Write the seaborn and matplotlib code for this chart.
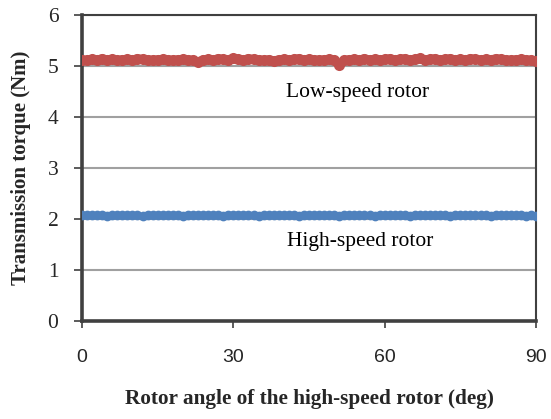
import matplotlib
matplotlib.use("Agg")
import matplotlib.pyplot as plt
import seaborn as sns
import pandas as pd

# Rotor angle of the high-speed rotor (deg)
angle = list(range(0, 91))

# Transmission torque of the low-speed rotor (Nm)
low_speed = [5.12, 5.11, 5.13, 5.12, 5.14, 5.12, 5.13, 5.11, 5.12, 5.13,
             5.12, 5.14, 5.13, 5.12, 5.11, 5.12, 5.13, 5.12, 5.11, 5.12,
             5.13, 5.12, 5.11, 5.08, 5.12, 5.13, 5.12, 5.14, 5.13, 5.12,
             5.15, 5.13, 5.12, 5.14, 5.13, 5.12, 5.11, 5.12, 5.10, 5.12,
             5.13, 5.12, 5.13, 5.14, 5.12, 5.13, 5.12, 5.11, 5.12, 5.13,
             5.12, 5.02, 5.11, 5.12, 5.13, 5.12, 5.14, 5.12, 5.13, 5.12,
             5.13, 5.14, 5.12, 5.13, 5.14, 5.12, 5.13, 5.15, 5.12, 5.13,
             5.14, 5.12, 5.13, 5.14, 5.12, 5.13, 5.12, 5.14, 5.13, 5.12,
             5.13, 5.12, 5.14, 5.13, 5.12, 5.11, 5.12, 5.13, 5.12, 5.11, 5.10]

# Transmission torque of the high-speed rotor (Nm)
high_speed = [2.07, 2.07, 2.08, 2.07, 2.07, 2.06, 2.07, 2.07, 2.08, 2.07,
              2.07, 2.07, 2.06, 2.07, 2.07, 2.07, 2.08, 2.07, 2.07, 2.07,
              2.06, 2.07, 2.07, 2.08, 2.07, 2.07, 2.07, 2.07, 2.06, 2.07,
              2.07, 2.07, 2.08, 2.07, 2.07, 2.06, 2.07, 2.07, 2.07, 2.07,
              2.08, 2.07, 2.07, 2.06, 2.07, 2.07, 2.07, 2.08, 2.07, 2.07,
              2.07, 2.06, 2.07, 2.07, 2.07, 2.08, 2.07, 2.07, 2.06, 2.07,
              2.07, 2.07, 2.07, 2.08, 2.07, 2.06, 2.07, 2.07, 2.07, 2.07,
              2.08, 2.07, 2.07, 2.06, 2.07, 2.07, 2.07, 2.07, 2.08, 2.07,
              2.07, 2.06, 2.07, 2.07, 2.07, 2.08, 2.07, 2.07, 2.06, 2.07, 2.06]

x_ticks = [0, 30, 60, 90]
y_ticks = [0, 1, 2, 3, 4, 5, 6]

df = pd.DataFrame({"angle": angle, "low": low_speed, "high": high_speed})

sns.set_theme(style="white")
plt.rcParams["font.family"] = ["Liberation Serif", "DejaVu Serif"]

fig = plt.figure(figsize=(5.51, 4.19), dpi=100)
ax = fig.add_axes([82 / 551, 1 - 321 / 419, (536 - 82) / 551, (321 - 15) / 419])

red = "#C0504D"
blue = "#4F81BD"

sns.lineplot(data=df, x="angle", y="low", ax=ax, color=red, linewidth=6.5,
             marker="o", markersize=8, markeredgewidth=0, zorder=3)
sns.lineplot(data=df, x="angle", y="high", ax=ax, color=blue, linewidth=4,
             marker="o", markersize=7, markeredgewidth=0, zorder=3)

ax.set_xlim(0, 90)
ax.set_ylim(0, 6)
ax.set_xticks(x_ticks)
ax.set_yticks(y_ticks)
ax.set_xticklabels([str(v) for v in x_ticks], family="Liberation Sans", fontsize=14)
ax.set_yticklabels([str(v) for v in y_ticks], fontsize=15.5)
ax.tick_params(axis="x", direction="out", length=5, width=1.2, color="#404040", pad=15)
ax.tick_params(axis="y", direction="out", length=6, width=1.2, color="#404040", pad=11)
ax.tick_params(bottom=True, left=True)

ax.yaxis.grid(True, color="#a0a0a0", linewidth=1.5, zorder=0)
ax.set_axisbelow(True)
for side in ["left", "bottom"]:
    ax.spines[side].set_color("#404040")
    ax.spines[side].set_linewidth(2.6)
for side in ["top", "right"]:
    ax.spines[side].set_color("#404040")
    ax.spines[side].set_linewidth(1.5)

ax.set_xlabel("Rotor angle of the high-speed rotor (deg)", fontsize=15.3,
              fontweight="bold", labelpad=17)
ax.set_ylabel("Transmission torque (Nm)", fontsize=15, fontweight="bold", labelpad=12)

ax.text(54.7, 4.49, "Low-speed rotor", fontsize=15.5, ha="center", va="center", color="black")
ax.text(55.1, 1.55, "High-speed rotor", fontsize=15.5, ha="center", va="center", color="black")

fig.savefig("out.png", dpi=100)
